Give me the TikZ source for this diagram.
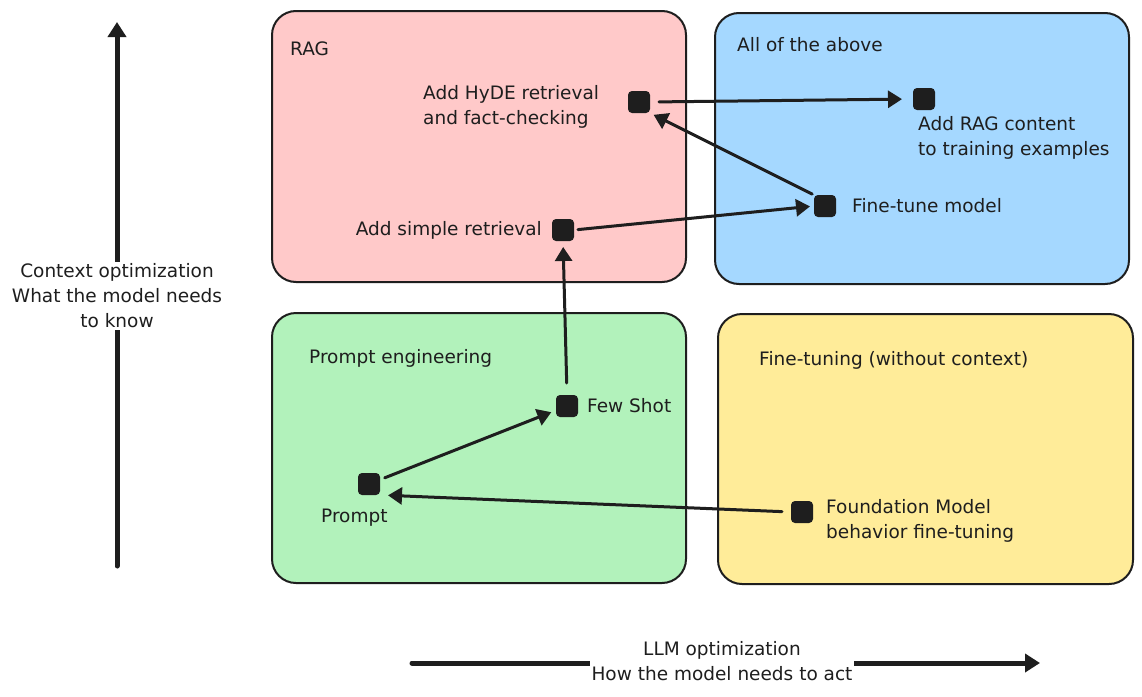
\documentclass[tikz,border=0pt]{standalone}
\usepackage{fontspec}
\setmainfont{DejaVu Sans}
\usetikzlibrary{arrows.meta}
\definecolor{ink}{HTML}{1E1E1E}
\definecolor{ragfill}{HTML}{FFC9C9}
\definecolor{allfill}{HTML}{A5D8FF}
\definecolor{pefill}{HTML}{B2F2BB}
\definecolor{ftfill}{HTML}{FFEC99}
\tikzset{
  quad/.style={draw=ink, line width=2pt, rounded corners=24pt},
  dot/.style={fill=ink, rounded corners=4pt, minimum size=22pt, inner sep=0pt, outer sep=0pt},
  lbl/.style={font=\fontsize{18.5}{25}\selectfont, text=ink, inner sep=0pt, align=left},
  conn/.style={draw=ink, line width=3pt, line cap=round, -{Triangle[length=14pt,width=17pt]}},
  axisline/.style={draw=ink, line width=5pt, line cap=round, -{Triangle[length=15pt,width=18pt]}}
}
\begin{document}
\begin{tikzpicture}[x=1pt,y=-1pt]
\useasboundingbox[fill=white] (0,0) rectangle (1142,696);

% quadrants
\draw[quad, fill=ragfill] (272,11) rectangle (686,282);
\draw[quad, fill=allfill] (715,13) rectangle (1129,284);
\draw[quad, fill=pefill] (272,313) rectangle (686,583);
\draw[quad, fill=ftfill] (718,314) rectangle (1133,584);

% axes
\coordinate (vbot) at (117,566);
\coordinate (vtop) at (117,22);
\draw[axisline] (vbot) -- (vtop);
\node[lbl, align=center, fill=white, inner sep=2pt] (vlab) at (117,296) {Context optimization\\What the model needs\\to know};
\coordinate (hl) at (412,663);
\coordinate (hr) at (1040,663);
\draw[axisline] (hl) -- (hr);
\node[lbl, align=center, fill=white, inner xsep=2pt, inner ysep=0pt] (hlab) at (722,661) {LLM optimization\\How the model needs to act};

% dots
\node[dot] (hyde) at (639,102) {};
\node[dot] (ragc) at (924,99) {};
\node[dot] (ftm) at (825,206) {};
\node[dot] (simple) at (563,230) {};
\node[dot] (few) at (567,406) {};
\node[dot] (prompt) at (369,484) {};
\node[dot] (found) at (802,512) {};

% labels
\node[lbl, anchor=west] (tRAG) at (290,49) {RAG};
\node[lbl, anchor=west] (tHyde) at (423,107) {Add HyDE retrieval\\and fact-checking};
\node[lbl, anchor=west] (tAll) at (737,45) {All of the above};
\node[lbl, anchor=west] (tRagc) at (918,138) {Add RAG content\\to training examples};
\node[lbl, anchor=west] (tFt) at (852,206) {Fine-tune model};
\node[lbl, anchor=east] (tSimple) at (542,230) {Add simple retrieval};
\node[lbl, anchor=west] (tPE) at (309,358) {Prompt engineering};
\node[lbl, anchor=west] (tFew) at (587,406) {Few Shot};
\node[lbl, anchor=west] (tPrompt) at (321,518) {Prompt};
\node[lbl, anchor=west] (tFT) at (759,360) {Fine-tuning (without context)};
\node[lbl, anchor=west] (tFound) at (826,521) {Foundation Model\\behavior fine-tuning};

% connectors
\draw[conn, shorten <=9pt, shorten >=11pt] (hyde.east) -- (ragc.west);
\draw[conn, shorten <=2pt, shorten >=4pt] (ftm.north west) -- (hyde.south east);
\draw[conn, shorten <=4pt, shorten >=4pt] (simple.east) -- (ftm.west);
\draw[conn, shorten <=12pt, shorten >=6pt] (few.north) -- (simple.south);
\draw[conn, shorten <=5pt, shorten >=5pt] (prompt) -- (few);
\draw[conn, shorten <=9pt, shorten >=8pt] (found.west) -- (prompt.south east);
\end{tikzpicture}
\end{document}
